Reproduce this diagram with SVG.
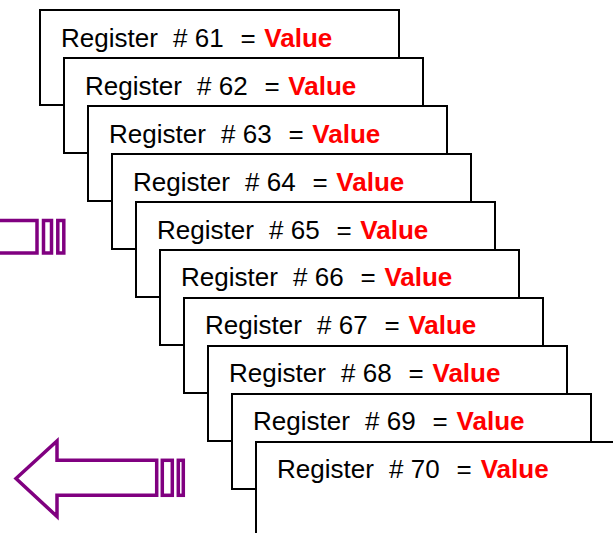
<svg xmlns="http://www.w3.org/2000/svg" width="613" height="533" viewBox="0 0 613 533">
<style>
.card{fill:#fff;stroke:#000;stroke-width:2}
.t{font-family:"Liberation Sans",Arial,sans-serif;font-size:26px;fill:#000}
.v{font-weight:bold;fill:#ff0000}
.ar{fill:#fff;stroke:#800080;stroke-width:3.5;stroke-linejoin:miter}
</style>
<rect width="613" height="533" fill="#fff"/>
<g id="arrows">
<g id="arrow-top">
<rect class="ar" x="-10" y="220.5" width="47" height="32.5"/>
<rect class="ar" x="43.5" y="220.5" width="8" height="32.5"/>
<rect class="ar" x="57.8" y="220.5" width="6" height="32.5"/>
</g>
<g id="arrow-bottom">
<polygon class="ar" points="16,478.5 57,441 57,460.3 156.7,460.3 156.7,495.3 57,495.3 57,516.5"/>
<rect class="ar" x="162.3" y="460.3" width="10" height="35"/>
<rect class="ar" x="178.3" y="460.3" width="5" height="35"/>
</g>
</g>
<g id="reg61"><rect class="card" x="40" y="10" width="359" height="95"/><text class="t" y="46.5"><tspan x="61">Register</tspan><tspan x="173"># 61</tspan><tspan x="240.4">=</tspan><tspan class="v" x="264.3">Value</tspan></text></g>
<g id="reg62"><rect class="card" x="64" y="58" width="359" height="95"/><text class="t" y="94.5"><tspan x="85">Register</tspan><tspan x="197"># 62</tspan><tspan x="264.4">=</tspan><tspan class="v" x="288.3">Value</tspan></text></g>
<g id="reg63"><rect class="card" x="88" y="106" width="359" height="95"/><text class="t" y="142.5"><tspan x="109">Register</tspan><tspan x="221"># 63</tspan><tspan x="288.4">=</tspan><tspan class="v" x="312.3">Value</tspan></text></g>
<g id="reg64"><rect class="card" x="112" y="154" width="359" height="95"/><text class="t" y="190.5"><tspan x="133">Register</tspan><tspan x="245"># 64</tspan><tspan x="312.4">=</tspan><tspan class="v" x="336.3">Value</tspan></text></g>
<g id="reg65"><rect class="card" x="136" y="202" width="359" height="95"/><text class="t" y="238.5"><tspan x="157">Register</tspan><tspan x="269"># 65</tspan><tspan x="336.4">=</tspan><tspan class="v" x="360.3">Value</tspan></text></g>
<g id="reg66"><rect class="card" x="160" y="250" width="359" height="95"/><text class="t" y="286.3"><tspan x="181">Register</tspan><tspan x="293"># 66</tspan><tspan x="360.4">=</tspan><tspan class="v" x="384.4">Value</tspan></text></g>
<g id="reg67"><rect class="card" x="184" y="298" width="359" height="95"/><text class="t" y="334.2"><tspan x="205">Register</tspan><tspan x="317"># 67</tspan><tspan x="384.4">=</tspan><tspan class="v" x="408.4">Value</tspan></text></g>
<g id="reg68"><rect class="card" x="208" y="346" width="359" height="95"/><text class="t" y="382"><tspan x="229">Register</tspan><tspan x="341"># 68</tspan><tspan x="408.4">=</tspan><tspan class="v" x="432.5">Value</tspan></text></g>
<g id="reg69"><rect class="card" x="232" y="394" width="359" height="95"/><text class="t" y="429.8"><tspan x="253">Register</tspan><tspan x="365"># 69</tspan><tspan x="432.4">=</tspan><tspan class="v" x="456.6">Value</tspan></text></g>
<g id="reg70"><rect class="card" x="256" y="442" width="359" height="95"/><text class="t" y="477.6"><tspan x="277">Register</tspan><tspan x="389"># 70</tspan><tspan x="456.4">=</tspan><tspan class="v" x="480.7">Value</tspan></text></g>
</svg>
